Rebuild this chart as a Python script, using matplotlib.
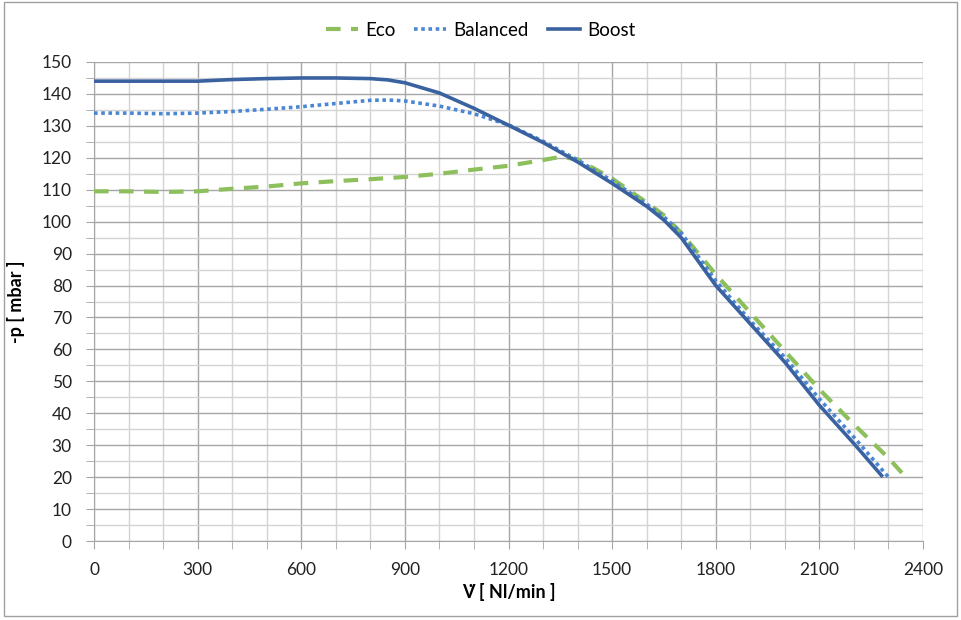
import matplotlib
matplotlib.use("Agg")
import matplotlib.pyplot as plt
from matplotlib.ticker import MultipleLocator
from matplotlib.patches import Rectangle

plt.rcParams['font.family'] = ['Lato', 'DejaVu Sans']

eco_x = [0, 100, 200, 300, 400, 500, 600, 700, 800, 900, 1000, 1100, 1200, 1300, 1350, 1400,
         1500, 1600, 1650, 1700, 1800, 1900, 2000, 2100, 2200, 2300, 2350]
eco_y = [109.5, 109.5, 109.3, 109.5, 110.3, 111, 112, 112.7, 113.3, 114, 115, 116.3, 117.5, 119.3, 120.3, 119.5,
         113.5, 106, 102, 96.5, 83.5, 71.5, 59.5, 47.5, 36.5, 26, 20]

bal_x = [0, 100, 200, 300, 400, 500, 600, 700, 800, 850, 900, 1000, 1100, 1200, 1300, 1400,
         1500, 1600, 1650, 1700, 1800, 1900, 2000, 2100, 2200, 2300]
bal_y = [134, 134, 133.8, 134, 134.5, 135.2, 136, 137, 138, 138.1, 137.8, 136.2, 133.8, 130.3, 125.2, 119.3,
         112.8, 105.5, 101.5, 96.5, 81.5, 69, 57.5, 44.5, 32.5, 20]

boost_x = [0, 100, 200, 300, 400, 500, 600, 700, 800, 850, 900, 1000, 1100, 1200, 1300, 1400,
           1500, 1600, 1650, 1700, 1800, 1900, 2000, 2100, 2200, 2280]
boost_y = [144, 144, 144, 144, 144.5, 144.8, 145, 145, 144.8, 144.4, 143.5, 140.3, 135.5, 130.2, 124.8, 118.7,
           112, 104.8, 100.5, 95, 80, 68, 56, 42.5, 30.5, 20.5]

x_ticks = [0, 300, 600, 900, 1200, 1500, 1800, 2100, 2400]
y_ticks = list(range(0, 151, 10))

fig = plt.figure(figsize=(9.61, 6.2), dpi=100)
ax = fig.add_axes([94/961, 79/620, 829/961, 479/620])

ax.plot(eco_x, eco_y, color='#8DBF5C', lw=3, ls=(0, (3.5, 2.5)), label='Eco', zorder=3)
ax.plot(bal_x, bal_y, color='#4A86D4', lw=2.6, ls=(0, (1, 1)), label='Balanced', zorder=4)
ax.plot(boost_x, boost_y, color='#3A62A0', lw=2.6, label='Boost', zorder=5)

ax.set_xlim(0, 2400)
ax.set_ylim(0, 150)
ax.set_xticks(x_ticks)
ax.set_yticks(y_ticks)
ax.xaxis.set_minor_locator(MultipleLocator(100))
ax.yaxis.set_minor_locator(MultipleLocator(5))
ax.grid(which='major', color='#A6A6A6', lw=1, zorder=0)
ax.grid(which='minor', color='#D4D4D4', lw=1, zorder=0)
ax.set_axisbelow(True)
for s in ['top', 'right']:
    ax.spines[s].set_visible(False)
for s in ['left', 'bottom']:
    ax.spines[s].set_color('#A6A6A6')
ax.tick_params(which='both', length=6, color='#A6A6A6', labelsize=12.5, labelcolor='#222222')
ax.tick_params(axis='y', pad=10)
ax.tick_params(axis='x', pad=9)

ax.set_xlabel('V\u0307 [ Nl/min ]', fontsize=13, fontweight='bold', labelpad=4)
ax.set_ylabel('-p [ mbar ]', fontsize=13, fontweight='bold', labelpad=12)

leg = fig.legend(loc='upper center', bbox_to_anchor=(0.5, 0.992), ncol=3, frameon=False,
                 fontsize=13.5, handlelength=1.7, columnspacing=1.0, handletextpad=0.4)

fig.add_artist(Rectangle((0.004, 0.006), 0.992, 0.99, transform=fig.transFigure,
                         fill=False, edgecolor='#A0A0A0', lw=1))

fig.savefig('out.png', dpi=100)
